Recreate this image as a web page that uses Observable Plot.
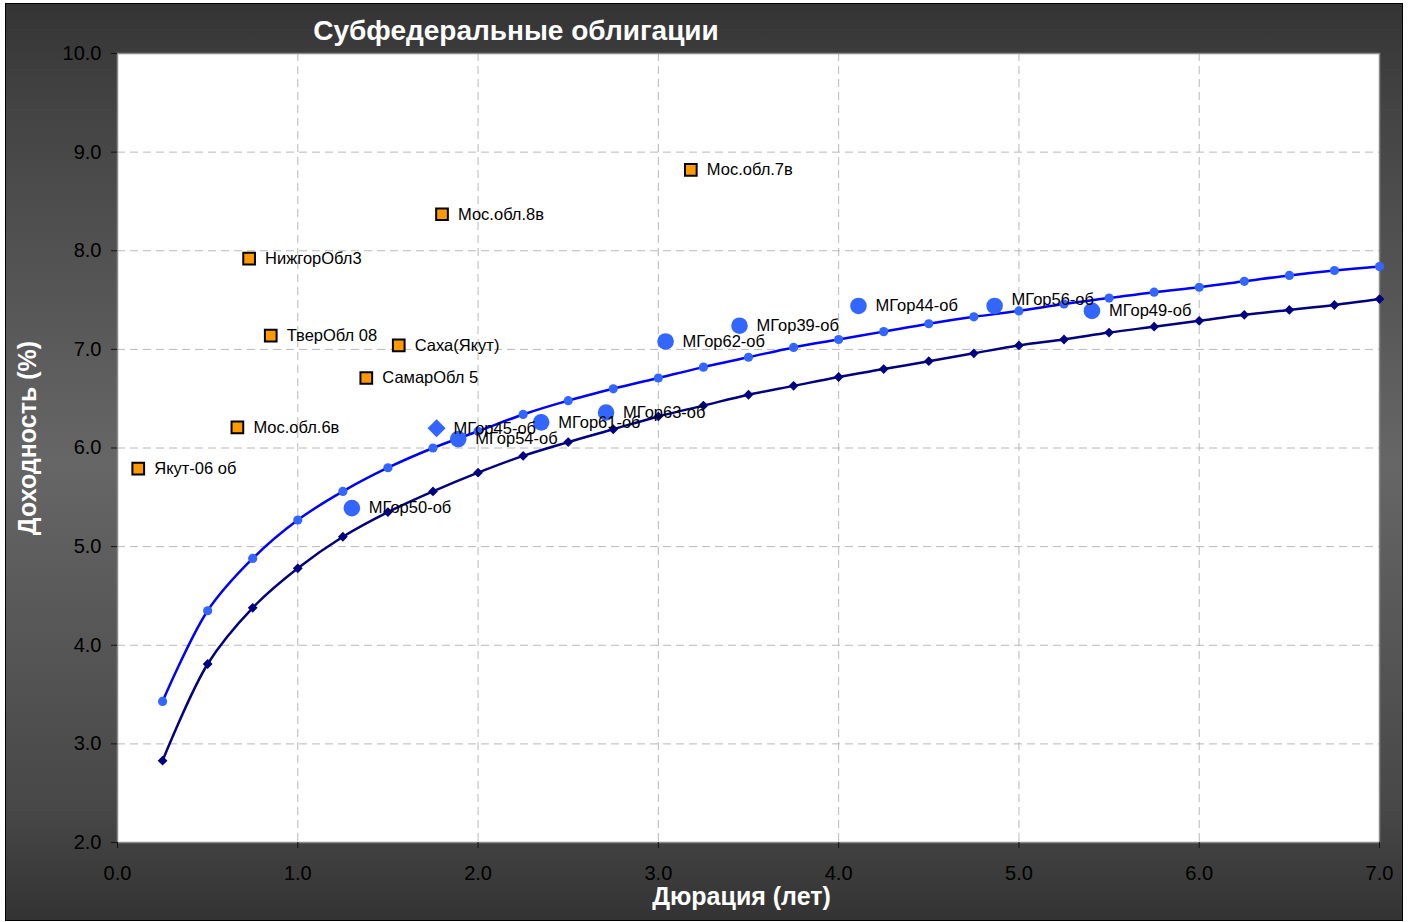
<!DOCTYPE html>
<html>
<head>
<meta charset="utf-8">
<script src="https://cdn.jsdelivr.net/npm/d3@7"></script>
<script src="https://cdn.jsdelivr.net/npm/@observablehq/plot@0.6"></script>
<style>
  html, body { margin: 0; padding: 0; background: #ffffff; }
  body { width: 1409px; height: 922px; position: relative; overflow: hidden; font-family: "Liberation Sans", Arial, sans-serif; }
  #frame {
    position: absolute; left: 5px; top: 3px; width: 1396px; height: 916px;
    border: 1px solid #000;
    background: linear-gradient(to bottom, #343434 0%, #444444 12%, #666666 50%, #474747 88%, #333333 100%);
  }
  #title {
    position: absolute; left: 0; top: 10px; width: 1020px; text-align: center;
    color: #fff; font-weight: bold; font-size: 28px; line-height: 34px;
  }
  #chart { position: absolute; left: 0; top: 0; }
</style>
</head>
<body>
<div id="frame">
  <div id="chart"></div>
  <div id="title">Субфедеральные облигации</div>
</div>
<script>
// --- Data ---
const curveDurations = [0.25,0.5,0.75,1.0,1.25,1.5,1.75,2.0,2.25,2.5,2.75,3.0,3.25,3.5,3.75,4.0,4.25,4.5,4.75,5.0,5.25,5.5,5.75,6.0,6.25,6.5,6.75,7.0];
const upperCurveYields = [3.43,4.35,4.88,5.27,5.56,5.80,6.00,6.17,6.34,6.48,6.60,6.71,6.82,6.92,7.02,7.10,7.18,7.26,7.33,7.39,7.46,7.52,7.58,7.63,7.69,7.75,7.80,7.84];
const lowerCurveYields = [2.83,3.81,4.38,4.78,5.10,5.35,5.56,5.75,5.92,6.06,6.19,6.32,6.43,6.54,6.63,6.72,6.80,6.88,6.96,7.04,7.10,7.17,7.23,7.29,7.35,7.40,7.45,7.51];

const regionNames = ["Мос.обл.7в","Мос.обл.8в","НижгорОбл3","ТверОбл 08","Саха(Якут)","СамарОбл 5","Мос.обл.6в","Якут-06 об"];
const regionDur = [3.18,1.80,0.73,0.85,1.56,1.38,0.665,0.115];
const regionYld = [8.82,8.37,7.92,7.14,7.04,6.71,6.21,5.79];

const moscowNames = ["МГор50-об","МГор54-об","МГор61-об","МГор63-об","МГор62-об","МГор39-об","МГор44-об","МГор56-об","МГор49-об"];
const moscowDur = [1.30,1.89,2.35,2.71,3.04,3.45,4.11,4.865,5.405];
const moscowYld = [5.39,6.09,6.26,6.36,7.08,7.24,7.44,7.44,7.39];

const diamondNames = ["МГор45-об"];
const diamondDur = [1.77];
const diamondYld = [6.20];

const xTicks = [0,1,2,3,4,5,6,7];
const yTicks = [2,3,4,5,6,7,8,9,10];

// --- Tables built from arrays ---
const upper = curveDurations.map((d, i) => ({x: d, y: upperCurveYields[i]}));
const lower = curveDurations.map((d, i) => ({x: d, y: lowerCurveYields[i]}));
const regions = regionNames.map((n, i) => ({name: n, x: regionDur[i], y: regionYld[i]}));
const moscow = moscowNames.map((n, i) => ({name: n, x: moscowDur[i], y: moscowYld[i]}));
const diamonds = diamondNames.map((n, i) => ({name: n, x: diamondDur[i], y: diamondYld[i]}));

// square rotated 45 degrees (equal diagonals)
const rhombus = {
  draw(context, size) {
    const h = Math.sqrt(size / 2);
    context.moveTo(0, -h);
    context.lineTo(h, 0);
    context.lineTo(0, h);
    context.lineTo(-h, 0);
    context.closePath();
  }
};

const FONT = "'Liberation Sans', Arial, sans-serif";

const chart = Plot.plot({
  width: 1396,
  height: 916,
  marginLeft: 111,
  marginRight: 23,
  marginTop: 49,
  marginBottom: 78,
  style: {background: "transparent", fontFamily: FONT, overflow: "visible"},
  x: {domain: [0, 7]},
  y: {domain: [2, 10]},
  marks: [
    Plot.frame({fill: "#ffffff", stroke: "none"}),
    Plot.gridX(xTicks.slice(1, -1), {stroke: "#b8b8b8", strokeOpacity: 1, strokeDasharray: "8,5"}),
    Plot.gridY(yTicks.slice(1, -1), {stroke: "#b8b8b8", strokeOpacity: 1, strokeDasharray: "8,5"}),
    Plot.frame({stroke: "#8a8a8a", strokeWidth: 1.5}),
    Plot.axisX(xTicks, {tickFormat: d3.format(".1f"), fontSize: 20, fill: "#000", stroke: "#111", tickSize: 6, tickPadding: 17, label: "Дюрация (лет)", labelAnchor: "center", labelArrow: "none", labelOffset: 62}),
    Plot.axisY(yTicks, {tickFormat: d3.format(".1f"), fontSize: 20, fill: "#000", stroke: "#111", tickSize: 6, tickPadding: 10, label: "Доходность (%)", labelAnchor: "center", labelArrow: "none", labelOffset: 99}),
    Plot.line(upper, {x: "x", y: "y", stroke: "#0000ff", strokeWidth: 2.5, curve: "catmull-rom"}),
    Plot.line(lower, {x: "x", y: "y", stroke: "#000080", strokeWidth: 2.5, curve: "catmull-rom"}),
    Plot.dot(upper, {x: "x", y: "y", r: 4.6, fill: "#3366ff", stroke: "none"}),
    Plot.dot(lower, {x: "x", y: "y", r: 3.9, symbol: rhombus, fill: "#000080", stroke: "none"}),
    Plot.dot(regions, {x: "x", y: "y", r: 6.6, symbol: "square", fill: "#ff9900", stroke: "#000", strokeWidth: 2}),
    Plot.dot(moscow, {x: "x", y: "y", r: 8.3, fill: "#3366ff", stroke: "none"}),
    Plot.dot(diamonds, {x: "x", y: "y", r: 7.2, symbol: rhombus, fill: "#3366ff", stroke: "none"}),
    Plot.text(regions, {x: "x", y: "y", text: "name", dx: 16, textAnchor: "start", fontSize: 16.5, fill: "#000", fontFamily: FONT}),
    Plot.text(moscow, {filter: d => d.name !== "МГор56-об", x: "x", y: "y", text: "name", dx: 17, textAnchor: "start", fontSize: 16.5, fill: "#000", fontFamily: FONT}),
    Plot.text(moscow, {filter: d => d.name === "МГор56-об", x: "x", y: "y", text: "name", dx: 17, dy: -6, textAnchor: "start", fontSize: 16.5, fill: "#000", fontFamily: FONT}),
    Plot.text(diamonds, {x: "x", y: "y", text: "name", dx: 17, textAnchor: "start", fontSize: 16.5, fill: "#000", fontFamily: FONT})
  ]
});

// style axis labels (titles) white & bold
chart.querySelectorAll("g[aria-label='x-axis label'] text").forEach(t => {
  t.setAttribute("fill", "#ffffff");
  t.setAttribute("dx", "-7");
  t.style.fontWeight = "bold";
  t.style.fontSize = "25px";
});
chart.querySelectorAll("g[aria-label='y-axis label'] text").forEach(t => {
  t.setAttribute("fill", "#ffffff");
  t.setAttribute("dx", "10");
  t.style.fontWeight = "bold";
  t.style.fontSize = "25px";
});
document.getElementById("chart").appendChild(chart);
</script>
</body>
</html>
